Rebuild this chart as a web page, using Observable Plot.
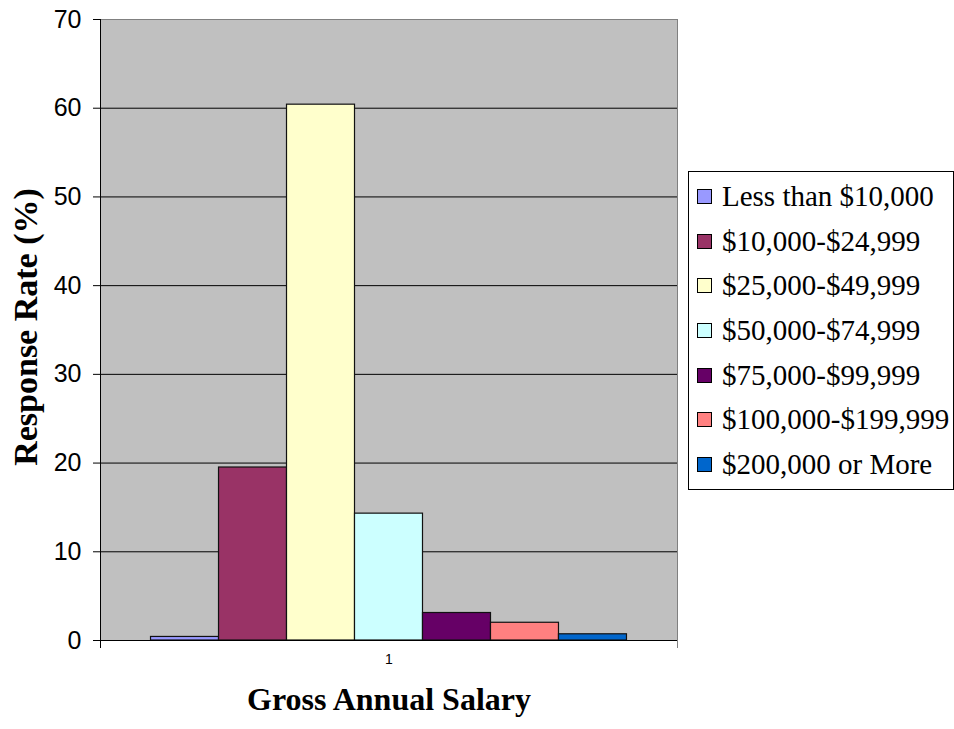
<!DOCTYPE html>
<html>
<head>
<meta charset="utf-8">
<script src="https://cdn.jsdelivr.net/npm/d3@7"></script>
<script src="https://cdn.jsdelivr.net/npm/@observablehq/plot@0.6"></script>
<style>
  html, body { margin: 0; padding: 0; background: #fff; }
  #wrap { position: relative; width: 954px; height: 729px; overflow: hidden; }
  #legend {
    position: absolute; left: 688px; top: 171px; width: 266px; height: 319px;
    box-sizing: border-box; border: 1px solid #000; background: #fff;
    padding-top: 2px;
    font-family: "Liberation Serif", "Times New Roman", serif; font-size: 29px; color: #000;
  }
  .item { display: flex; align-items: center; height: 44.7px; white-space: nowrap; }
  .item span.lab { font-family: "Liberation Serif", "Times New Roman", serif; }
  .sw { width: 15px; height: 15px; box-sizing: border-box; border: 1px solid #000; margin-left: 8px; margin-right: 10px; flex: none; }
</style>
</head>
<body>
<div id="wrap"></div>
<script>
const categories = ["1"];
const series = ["Less than $10,000", "$10,000-$24,999", "$25,000-$49,999", "$50,000-$74,999", "$75,000-$99,999", "$100,000-$199,999", "$200,000 or More"];
const values = [0.4, 19.5, 60.4, 14.3, 3.1, 2.0, 0.7];
const colors = ["#9999FF", "#993366", "#FFFFCC", "#CCFFFF", "#660066", "#FF8080", "#0066CC"];
const yTicks = [0, 10, 20, 30, 40, 50, 60, 70];
const xTitle = "Gross Annual Salary";
const yTitle = "Response Rate (%)";

const data = series.map((s, i) => ({series: s, value: values[i], category: categories[0]}));
const serif = "'Liberation Serif', 'Times New Roman', serif";

const chart = Plot.plot({
  width: 954,
  height: 729,
  marginLeft: 100,
  marginRight: 277,
  marginTop: 19,
  marginBottom: 89,
  style: {fontFamily: "'Liberation Sans', Arial, sans-serif", background: "white", color: "black"},
  x: {domain: series, paddingInner: 0, paddingOuter: 0.743, round: false, axis: null},
  y: {domain: [0, 70]},
  color: {domain: series, range: colors},
  marks: [
    Plot.frame({fill: "#C0C0C0", stroke: null}),
    Plot.ruleY(yTicks.filter(t => t > 0 && t < 70), {stroke: "black", strokeWidth: 1}),
    Plot.barY(data, {x: "series", y: "value", fill: "series", stroke: "#111", strokeWidth: 1.2}),
    Plot.frame({anchor: "top", stroke: "#808080"}),
    Plot.frame({anchor: "right", stroke: "#808080", insetBottom: -7}),
    Plot.frame({anchor: "left", stroke: "black", insetBottom: -7}),
    Plot.ruleY([0], {stroke: "black", strokeWidth: 1.2}),
    Plot.axisY(yTicks, {tickSize: 7, tickPadding: 12, fontSize: 25, label: null, stroke: "black"}),
    Plot.text(categories, {frameAnchor: "bottom", dy: 23, fontSize: 14}),
    Plot.text([xTitle], {frameAnchor: "bottom", dy: 69, fontSize: 32, fontWeight: "bold", fontFamily: serif}),
    Plot.text([yTitle], {frameAnchor: "left", textAnchor: "middle", rotate: -90, dx: -74, dy: -3, fontSize: 34, fontWeight: "bold", fontFamily: serif})
  ]
});

const wrap = document.getElementById("wrap");
wrap.appendChild(chart);

const legend = document.createElement("div");
legend.id = "legend";
series.forEach((s, i) => {
  const item = document.createElement("div");
  item.className = "item";
  const sw = document.createElement("span");
  sw.className = "sw";
  sw.style.background = colors[i];
  const label = document.createElement("span");
  label.className = "lab";
  label.textContent = s;
  item.appendChild(sw);
  item.appendChild(label);
  legend.appendChild(item);
});
wrap.appendChild(legend);
</script>
</body>
</html>
